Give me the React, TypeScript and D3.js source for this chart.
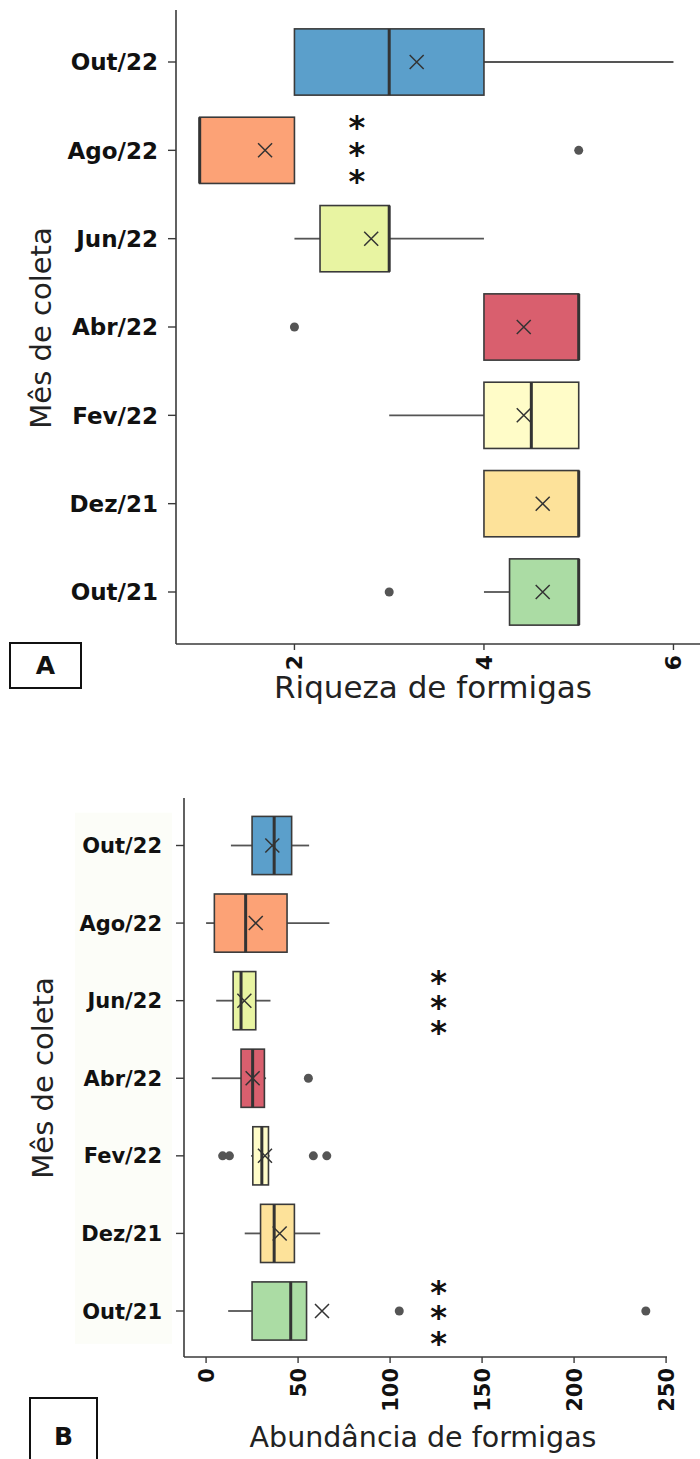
import React from "react";
import * as d3 from "d3";

// month categories, top to bottom
const months = ["Out/22", "Ago/22", "Jun/22", "Abr/22", "Fev/22", "Dez/21", "Out/21"];
const boxColors = ["#5b9fcb", "#fca276", "#e8f4a2", "#d95f6e", "#fffcc8", "#fde29a", "#abdca4"];

// A: riqueza de formigas
const riqMin = [2, 1, 2, 4, 3, 4, 4];
const riqQ1 = [2, 1, 2.27, 4, 4, 4, 4.27];
const riqMedian = [3, 1, 3, 5, 4.5, 5, 5];
const riqQ3 = [4, 2, 3, 5, 5, 5, 5];
const riqMax = [6, 2, 4, 5, 5, 5, 5];
const riqMean = [3.29, 1.69, 2.81, 4.42, 4.42, 4.62, 4.62];
const riqOutliers = [[], [5], [], [2], [], [], [3]];
const riqTicks = [2, 4, 6];
const riqStars = [{ month: "Ago/22", value: 2.66 }];

// B: abundancia de formigas
const abMin = [13.5, 0, 5.5, 3.1, 24.5, 21, 12];
const abQ1 = [25, 4.5, 14.7, 19, 25.4, 29.6, 25];
const abMedian = [37, 21.5, 19, 25.3, 30.3, 37, 46];
const abQ3 = [46.5, 44, 27, 31.7, 33.9, 48, 54.6];
const abMax = [56, 67, 35, 32.6, 34.5, 62, 54.6];
const abMean = [36, 27, 20.8, 25.3, 32, 40, 63];
const abOutliers = [[], [], [], [55.6], [9, 12.7, 58.3, 65.6], [], [105, 239]];
const abTicks = [0, 50, 100, 150, 200, 250];
const abStars = [
  { month: "Jun/22", value: 126.4 },
  { month: "Out/21", value: 126.4 }
];

const FONT = "'DejaVu Sans', sans-serif";

function Panel(props: any) {
  const {
    xDomain, xRange, yRange, axisTop, axisBottom, min, q1, median, q3, max, mean,
    outliers, ticks, stars, xLabel, xLabelX, xLabelY, catFont, catGap, tickFont, labelFont,
    yLabelX, yLabelY, letter, letterBox, letterY, starGap, starShift, labelBg
  } = props;
  const x = d3.scaleLinear().domain(xDomain).range(xRange);
  const y = d3.scalePoint().domain(months).range(yRange);
  const step = y.step();
  const bh = step * 0.75;
  const left = xRange[0];
  const ink = "#3a3a3a";
  const starFont = 32;
  // vertical advance of an upright glyph is about 1.164em in DejaVu Sans
  const starSpacing = starGap - starFont * 1.164;

  return (
    <g>
      {labelBg && (
        <rect x={75} y={yRange[0] - step / 2 + 6} width={97} height={yRange[1] - yRange[0] + step - 12} fill="#fcfdf8" />
      )}
      {/* axes */}
      <line x1={left} x2={left} y1={axisTop} y2={axisBottom} stroke={ink} strokeWidth={1.6} />
      <line x1={left} x2={xRange[1]} y1={axisBottom} y2={axisBottom} stroke={ink} strokeWidth={1.6} />
      {months.map(m => (
        <g key={"yt" + m}>
          <line x1={left - 8} x2={left} y1={y(m)} y2={y(m)} stroke={ink} strokeWidth={1.4} />
          <text
            x={left - catGap}
            y={y(m)}
            dy="0.36em"
            textAnchor="end"
            fontFamily={FONT}
            fontWeight="bold"
            fontSize={catFont}
            fill="#111"
          >
            {m}
          </text>
        </g>
      ))}
      {ticks.map((t: number) => (
        <g key={"xt" + t}>
          <line x1={x(t)} x2={x(t)} y1={axisBottom} y2={axisBottom + 6} stroke={ink} strokeWidth={1.4} />
          <text
            transform={`translate(${x(t)},${axisBottom + 11}) rotate(-90)`}
            dy="0.36em"
            textAnchor="end"
            fontFamily={FONT}
            fontWeight="bold"
            fontSize={tickFont}
            fill="#111"
          >
            {t}
          </text>
        </g>
      ))}
      {/* boxes */}
      {months.map((m, i) => {
        const cy = y(m)!;
        return (
          <g key={"box" + m}>
            <line x1={x(min[i])} x2={x(q1[i])} y1={cy} y2={cy} stroke="#555" strokeWidth={1.8} />
            <line x1={x(q3[i])} x2={x(max[i])} y1={cy} y2={cy} stroke="#555" strokeWidth={1.8} />
            <rect
              x={x(q1[i])}
              y={cy - bh / 2}
              width={x(q3[i]) - x(q1[i])}
              height={bh}
              fill={boxColors[i]}
              stroke={ink}
              strokeWidth={1.6}
            />
            <line x1={x(median[i])} x2={x(median[i])} y1={cy - bh / 2} y2={cy + bh / 2} stroke="#333" strokeWidth={3} />
            {outliers[i].map((o: number, j: number) => (
              <circle key={j} cx={x(o)} cy={cy} r={4.5} fill="#555" />
            ))}
            <path
              d={`M${x(mean[i]) - 7},${cy - 7}L${x(mean[i]) + 7},${cy + 7}M${x(mean[i]) - 7},${cy + 7}L${x(mean[i]) + 7},${cy - 7}`}
              stroke="#333"
              strokeWidth={1.5}
              fill="none"
            />
          </g>
        );
      })}
      {stars.map((s: any, k: number) => (
        <text
          key={"st" + k}
          x={x(s.value)}
          y={y(s.month)! + starShift}
          textAnchor="middle"
          fontFamily={FONT}
          fontWeight="bold"
          fontSize={starFont}
          letterSpacing={starSpacing}
          fill="#111"
          style={{ writingMode: "vertical-rl", textOrientation: "upright" } as any}
        >
          ***
        </text>
      ))}
      {/* axis titles */}
      <text
        x={xLabelX}
        y={xLabelY}
        textAnchor="middle"
        fontFamily={FONT}
        fontSize={labelFont}
        fill="#222"
      >
        {xLabel}
      </text>
      <text
        transform={`translate(${yLabelX},${yLabelY}) rotate(-90)`}
        textAnchor="middle"
        fontFamily={FONT}
        fontSize={29}
        fill="#222"
      >
        Mês de coleta
      </text>
      <rect
        x={letterBox[0]}
        y={letterBox[1]}
        width={letterBox[2]}
        height={letterBox[3]}
        fill="white"
        stroke="#111"
        strokeWidth={2}
      />
      <text
        x={letterBox[0] + letterBox[2] / 2}
        y={letterY}
        dy="0.36em"
        textAnchor="middle"
        fontFamily={FONT}
        fontWeight="bold"
        fontSize={25}
        fill="#111"
      >
        {letter}
      </text>
    </g>
  );
}

export default function App() {
  return (
    <svg
      width={700}
      height={1459}
      style={{ position: "absolute", left: 0, top: 0, background: "white" }}
    >
      <rect width={700} height={1459} fill="white" />
      <Panel
        xDomain={[0.75, 6.28]}
        xRange={[176, 700]}
        yRange={[62, 592]}
        axisTop={10}
        axisBottom={644}
        min={riqMin}
        q1={riqQ1}
        median={riqMedian}
        q3={riqQ3}
        max={riqMax}
        mean={riqMean}
        outliers={riqOutliers}
        ticks={riqTicks}
        stars={riqStars}
        starGap={26}
        starShift={-2}
        xLabel="Riqueza de formigas"
        xLabelX={433}
        xLabelY={698}
        catFont={23}
        catGap={18}
        tickFont={22}
        labelFont={31}
        yLabelX={51}
        yLabelY={328}
        letter="A"
        letterBox={[10, 643, 71, 45]}
        letterY={665}
        labelBg={false}
      />
      <Panel
        xDomain={[-12, 250.5]}
        xRange={[184, 667]}
        yRange={[845.5, 1311]}
        axisTop={798}
        axisBottom={1357}
        min={abMin}
        q1={abQ1}
        median={abMedian}
        q3={abQ3}
        max={abMax}
        mean={abMean}
        outliers={abOutliers}
        ticks={abTicks}
        stars={abStars}
        starGap={24.5}
        starShift={0}
        xLabel="Abundância de formigas"
        xLabelX={423}
        xLabelY={1447}
        catFont={21}
        catGap={22}
        tickFont={21}
        labelFont={28.5}
        yLabelX={53}
        yLabelY={1078}
        letter="B"
        letterBox={[30, 1398, 67, 70]}
        letterY={1436}
        labelBg={true}
      />
    </svg>
  );
}
